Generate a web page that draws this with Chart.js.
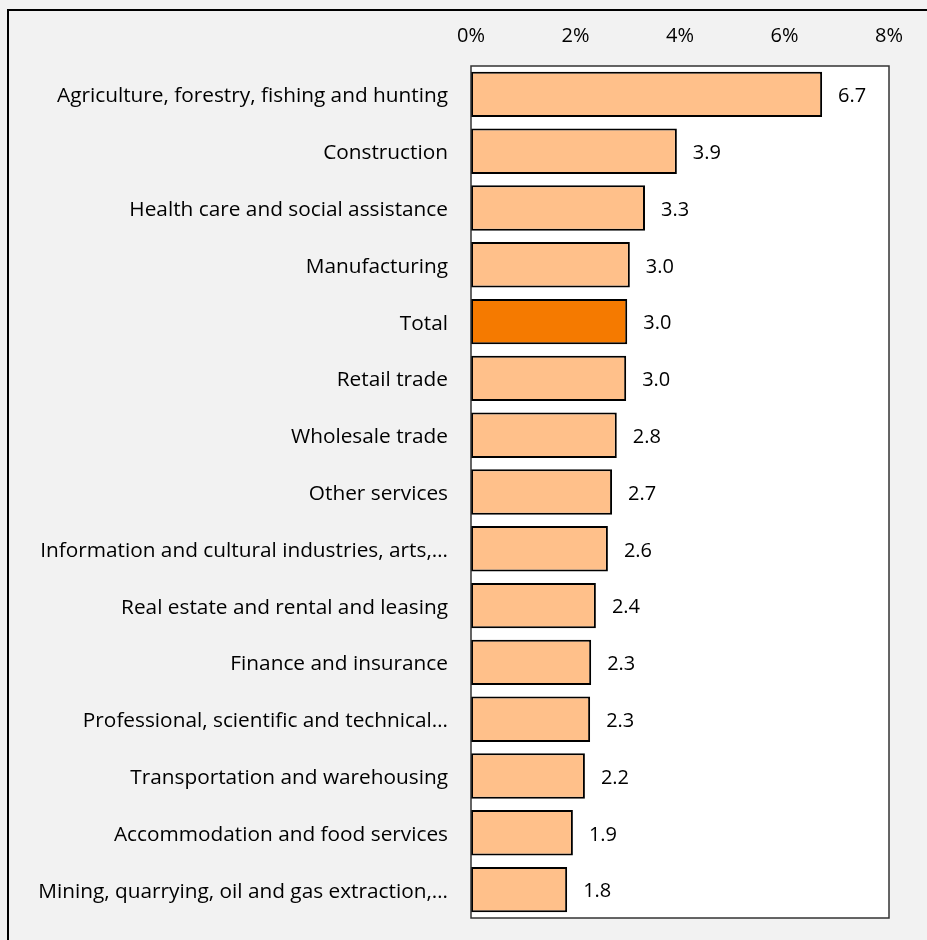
<!DOCTYPE html>
<html>
<head>
<meta charset="utf-8">
<script src="https://cdn.jsdelivr.net/npm/chart.js@4/dist/chart.umd.min.js"></script>
<style>
  html, body { margin: 0; padding: 0; background: #f2f2f2; }
  #wrap { width: 927px; height: 940px; }
</style>
</head>
<body>
<div id="wrap"><canvas id="chart" width="927" height="940"></canvas></div>
<script>
// data
const industries = [
    'Agriculture, forestry, fishing and hunting',
    'Construction',
    'Health care and social assistance',
    'Manufacturing',
    'Total',
    'Retail trade',
    'Wholesale trade',
    'Other services',
    'Information and cultural industries, arts,…',
    'Real estate and rental and leasing',
    'Finance and insurance',
    'Professional, scientific and technical…',
    'Transportation and warehousing',
    'Accommodation and food services',
    'Mining, quarrying, oil and gas extraction,…'
];
const rates = [6.72, 3.94, 3.33, 3.04, 2.99, 2.97, 2.79, 2.70, 2.62, 2.39, 2.30, 2.28, 2.18, 1.95, 1.84];
const xTicks = [0, 2, 4, 6, 8];

const FONT = '"Open Sans"';
const light = '#ffc08a';
const dark = '#f57a00';

let colors = industries.map(n => n === 'Total' ? dark : light);

// gray page with a frame, white plot area with border, value labels
const frame = {
    id: 'frame',
    beforeDraw(chart) {
        const c = chart.ctx, a = chart.chartArea;
        c.save();
        c.fillStyle = '#f2f2f2';
        c.fillRect(0, 0, chart.width, chart.height);
        c.strokeStyle = '#000';
        c.lineWidth = 2;
        c.strokeRect(8, 10, chart.width + 20, chart.height + 20);
        c.fillStyle = '#fff';
        c.fillRect(a.left, a.top, a.right - a.left, a.bottom - a.top);
        c.restore();
    },
    afterDatasetsDraw(chart) {
        const c = chart.ctx, a = chart.chartArea;
        c.save();
        c.strokeStyle = '#333';
        c.lineWidth = 1.5;
        c.strokeRect(a.left, a.top, a.right - a.left, a.bottom - a.top);
        c.fillStyle = '#000';
        c.font = '20px ' + FONT;
        c.textAlign = 'left';
        c.textBaseline = 'middle';
        chart.getDatasetMeta(0).data.forEach((bar, i) => {
            c.fillText(rates[i].toFixed(1), bar.x + 16, bar.y + 2);
        });
        c.restore();
    }
};

const data = {
    labels: industries,
    datasets: [{
        data: rates,
        backgroundColor: colors,
        borderColor: '#000',
        borderWidth: 2,
        borderSkipped: false,
        barPercentage: 0.8,
        categoryPercentage: 1
    }]
};

const config = {
    type: 'bar',
    data: data,
    options: {
        indexAxis: 'y',
        responsive: false,
        animation: false,
        layout: { padding: { left: 0, top: 0, right: 38, bottom: 22 } },
        plugins: { legend: { display: false }, tooltip: { enabled: false } },
        scales: {
            x: {
                position: 'top',
                min: 0, max: 8,
                afterBuildTicks: s => { s.ticks = xTicks.map(v => ({ value: v })); },
                afterFit: s => { s.height = 66; },
                grid: { display: false, drawTicks: false },
                border: { display: false },
                ticks: {
                    color: '#000',
                    font: { family: FONT, size: 20 },
                    padding: 18,
                    maxRotation: 0,
                    callback: v => v + '%'
                }
            },
            y: {
                afterFit: s => { s.width = 471; s.paddingTop = 0; s.paddingBottom = 0; },
                grid: { display: false, drawTicks: false },
                border: { display: false },
                ticks: {
                    color: '#000',
                    font: { family: FONT, size: 20.8 },
                    padding: 23,
                    labelOffset: 2,
                    autoSkip: false
                }
            }
        }
    },
    plugins: [frame]
};

let c = document.getElementById('chart').getContext('2d');
new Chart(c, config);
</script>
</body>
</html>
